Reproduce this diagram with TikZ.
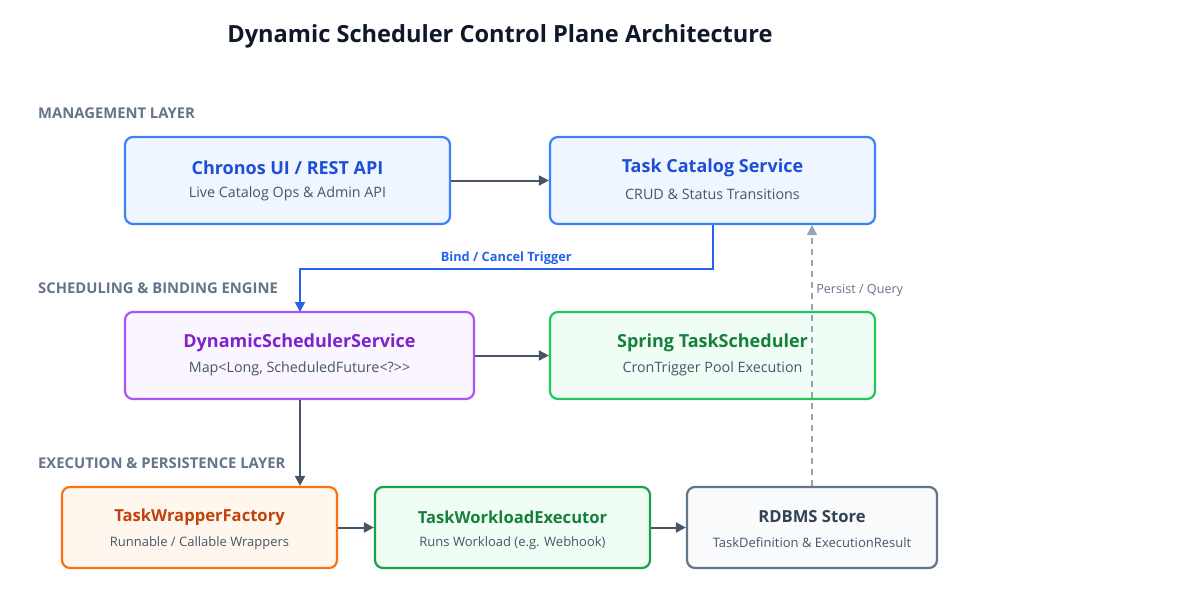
\documentclass[tikz,border=0pt]{standalone}
\usepackage{fontspec}
\setmainfont{Open Sans}
\usepackage{xcolor}
\usepackage{tikz}
\usetikzlibrary{arrows.meta,positioning,calc}

\definecolor{inkdark}{HTML}{0F172A}
\definecolor{layergray}{HTML}{64748B}
\definecolor{subgray}{HTML}{475569}
\definecolor{linkgray}{HTML}{475569}
\definecolor{dashgray}{HTML}{94A3B8}
\definecolor{blueline}{HTML}{3B82F6}
\definecolor{bluefill}{HTML}{EFF6FF}
\definecolor{bluetext}{HTML}{1D4ED8}
\definecolor{bindblue}{HTML}{2563EB}
\definecolor{purpleline}{HTML}{A855F7}
\definecolor{purplefill}{HTML}{FAF5FF}
\definecolor{purpletext}{HTML}{7E22CE}
\definecolor{greenline}{HTML}{22C55E}
\definecolor{greendark}{HTML}{16A34A}
\definecolor{greenfill}{HTML}{F0FDF4}
\definecolor{greentext}{HTML}{15803D}
\definecolor{orangeline}{HTML}{F97316}
\definecolor{orangefill}{HTML}{FFF7ED}
\definecolor{orangetext}{HTML}{C2410C}
\definecolor{slateline}{HTML}{64748B}
\definecolor{slatefill}{HTML}{F8FAFC}
\definecolor{slatetext}{HTML}{334155}

\begin{document}
\begin{tikzpicture}[
  x=1pt, y=-1pt,
  card/.style={draw, line width=2.2pt, rounded corners=8pt, align=center,
               minimum height=87pt, inner sep=0pt},
  lowcard/.style={card, minimum height=81pt},
  head/.style={font=\fontsize{18}{21}\selectfont\bfseries},
  note/.style={font=\fontsize{14.3}{17}\selectfont, text=subgray},
  lowhead/.style={font=\fontsize{16.6}{20}\selectfont\bfseries},
  lownote/.style={font=\fontsize{13}{16}\selectfont, text=subgray},
  layer/.style={font=\fontsize{14.8}{17}\selectfont\bfseries, text=layergray,
                anchor=west, inner sep=0pt},
  flow/.style={-{Triangle[length=10pt, width=10pt]}, line width=2pt, draw=linkgray},
  bind/.style={-{Triangle[length=10pt, width=10pt]}, line width=2pt, draw=bindblue},
  store/.style={-{Triangle[length=10pt, width=10pt]}, line width=2pt, draw=dashgray,
                dash pattern=on 6pt off 5pt}
]
\useasboundingbox (0,0) rectangle (1187,600);
\fill[white] (0,0) rectangle (1187,600);

\node[font=\fontsize{23.6}{28}\selectfont\bfseries, text=inkdark] (title) at (500,36)
  {Dynamic Scheduler Control Plane Architecture};

\node[layer] (mgmt) at (38,113) {MANAGEMENT LAYER};
\node[layer] (sched) at (38,288) {SCHEDULING \& BINDING ENGINE};
\node[layer] (exec) at (38,463) {EXECUTION \& PERSISTENCE LAYER};

% management layer
\node[card, draw=blueline, fill=bluefill, minimum width=325pt] (chronos) at (287.5,180.5) {};
\node[head, text=bluetext] (chronostitle) at (287.5,168) {Chronos UI / REST API};
\node[note] (chronosnote) at (287.5,194) {Live Catalog Ops \& Admin API};

\node[card, draw=blueline, fill=bluefill, minimum width=325pt] (catalog) at (712.5,180.5) {};
\node[head, text=bluetext] (catalogtitle) at (712.5,168) {Task Catalog Service};
\node[note] (catalognote) at (712.5,194) {CRUD \& Status Transitions};

% scheduling layer
\node[card, draw=purpleline, fill=purplefill, minimum width=349pt] (dynsched) at (299.5,355.5) {};
\node[head, text=purpletext] (dynschedtitle) at (299.5,343) {DynamicSchedulerService};
\node[note] (dynschednote) at (299.5,369) {Map<Long, ScheduledFuture<?>{}>};

\node[card, draw=greenline, fill=greenfill, minimum width=325pt] (spring) at (712.5,355.5) {};
\node[head, text=greentext] (springtitle) at (712.5,343) {Spring TaskScheduler};
\node[note] (springnote) at (712.5,369) {CronTrigger Pool Execution};

% execution layer
\node[lowcard, draw=orangeline, fill=orangefill, minimum width=275pt] (wrapper) at (199.5,527.5) {};
\node[lowhead, text=orangetext] (wrappertitle) at (199.5,517) {TaskWrapperFactory};
\node[lownote] (wrappernote) at (199.5,543) {Runnable / Callable Wrappers};

\node[lowcard, draw=greendark, fill=greenfill, minimum width=275pt] (workload) at (512.5,527.5) {};
\node[lowhead, text=greentext] (workloadtitle) at (512.5,517) {TaskWorkloadExecutor};
\node[lownote] (workloadnote) at (512.5,543) {Runs Workload (e.g. Webhook)};

\node[lowcard, draw=slateline, fill=slatefill, minimum width=250pt] (rdbms) at (812,527.5) {};
\node[lowhead, text=slatetext] (rdbmstitle) at (812,517) {RDBMS Store};
\node[lownote] (rdbmsnote) at (812,543) {TaskDefinition \& ExecutionResult};

% connectors
\draw[flow] (chronos.east) -- (catalog.west);
\draw[bind] (catalog.south) -- ++(0,44) -| (300,312)
  node[pos=0.25, above, font=\fontsize{12.8}{15}\selectfont\bfseries, text=bindblue] {Bind / Cancel Trigger};
\draw[flow] ($(dynsched.south)+(0.5,0)$) -- ($(wrapper.north)+(100.5,0)$);
\draw[flow] (dynsched.east) -- (spring.west);
\draw[flow] (wrapper.east) -- (workload.west);
\draw[flow] (workload.east) -- (rdbms.west);
\draw[store] (rdbms.north) -- ($(catalog.south)+(99.5,0)$)
  node[pos=0.75, right, font=\fontsize{12.6}{15}\selectfont, text=layergray] {Persist / Query};
\end{tikzpicture}
\end{document}
